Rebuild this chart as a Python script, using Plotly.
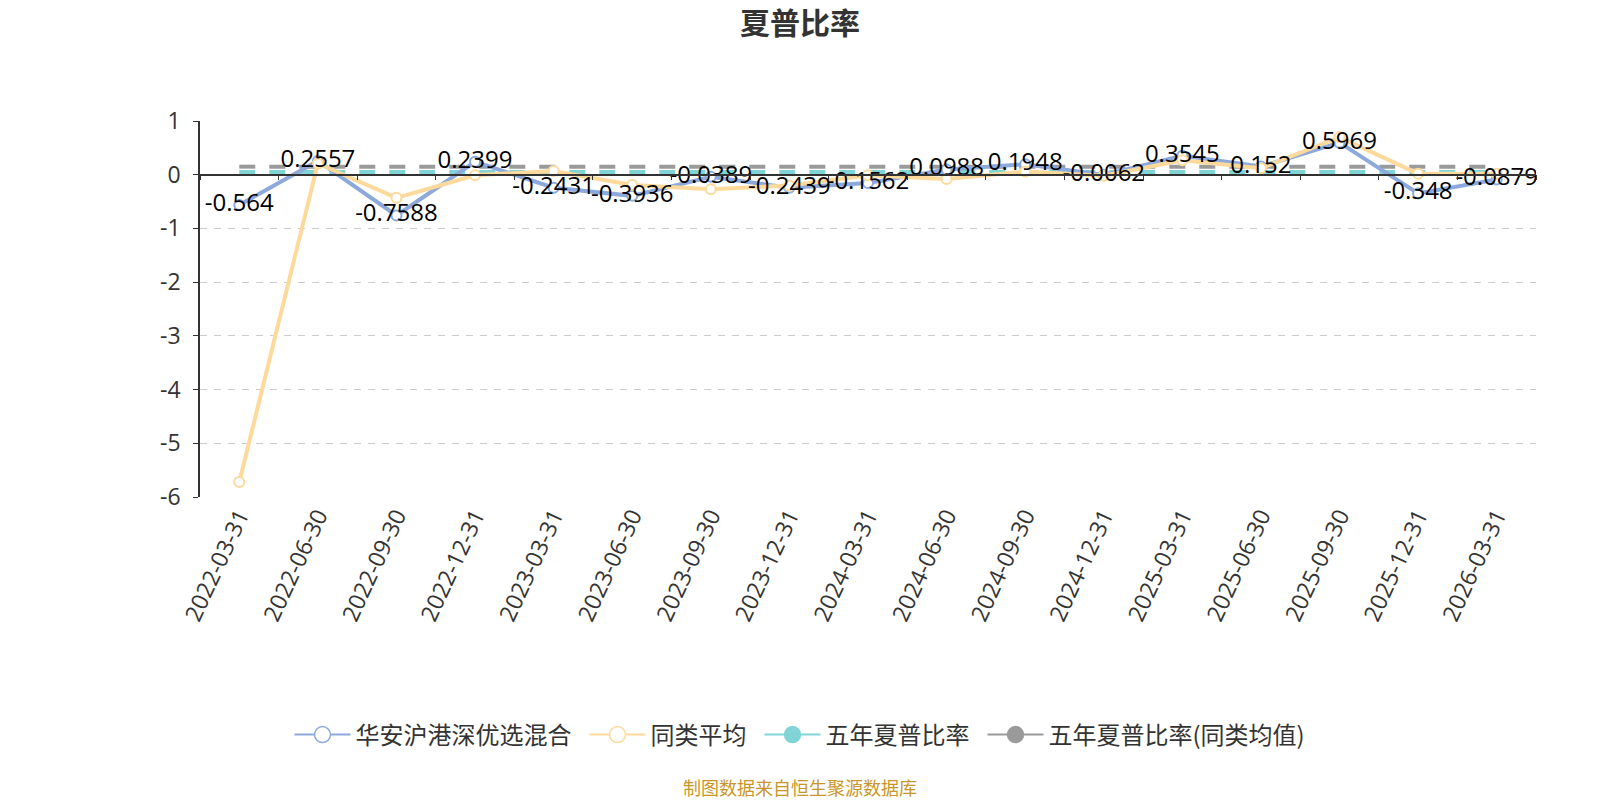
import plotly.graph_objects as go

dates = ["2022-03-31", "2022-06-30", "2022-09-30", "2022-12-31", "2023-03-31", "2023-06-30",
         "2023-09-30", "2023-12-31", "2024-03-31", "2024-06-30", "2024-09-30", "2024-12-31",
         "2025-03-31", "2025-06-30", "2025-09-30", "2025-12-31", "2026-03-31"]
fund = [-0.564, 0.2557, -0.7588, 0.2399, -0.2431, -0.3936, -0.0389, -0.2439, -0.1562,
        0.0988, 0.1948, -0.0062, 0.3545, 0.152, 0.5969, -0.348, -0.0879]
peer_avg = [-5.72, 0.21, -0.43, -0.01, 0.07, -0.19, -0.27, -0.2, -0.01,
            -0.08, 0.06, -0.02, 0.27, 0.12, 0.70, 0.02, 0.02]
five_year = 0.05
five_year_peer = 0.15
y_ticks = [1, 0, -1, -2, -3, -4, -5, -6]

names = ["华安沪港深优选混合", "同类平均", "五年夏普比率", "五年夏普比率(同类均值)"]
colors = ["#8DA9DC", "#FDD99B", "#80D4D6", "#9A9A9A"]

FONT = "Open Sans, Noto Sans CJK SC"
CJK = "Noto Sans CJK SC"
fig = go.Figure()

# constant five-year lines
fig.add_trace(go.Scatter(x=dates, y=[five_year] * len(dates), mode="lines",
                         line=dict(color=colors[2], width=4, dash="16px,14px"),
                         showlegend=False, hoverinfo="skip"))
fig.add_trace(go.Scatter(x=dates, y=[five_year_peer] * len(dates), mode="lines",
                         line=dict(color=colors[3], width=4, dash="16px,14px"),
                         showlegend=False, hoverinfo="skip"))
# fund
fig.add_trace(go.Scatter(x=dates, y=fund, mode="lines+markers",
                         line=dict(color=colors[0], width=4),
                         marker=dict(size=10, color="white", line=dict(color=colors[0], width=2)),
                         showlegend=False))
# peer average
fig.add_trace(go.Scatter(x=dates, y=peer_avg, mode="lines+markers",
                         line=dict(color=colors[1], width=4),
                         marker=dict(size=10, color="white", line=dict(color=colors[1], width=2)),
                         showlegend=False))
# labels for fund
fig.add_trace(go.Scatter(x=dates, y=fund, mode="text",
                         text=[("%g" % v) for v in fund], textposition="middle center",
                         textfont=dict(family=FONT, size=24, color="#000000"),
                         showlegend=False, hoverinfo="skip"))

# legend entries
for i, nm in enumerate(names):
    filled = i >= 2
    label = nm + ("\u2004" if i < len(names) - 1 else "")
    fig.add_trace(go.Scatter(x=[None], y=[None], mode="lines+markers", name=label,
                             line=dict(color=colors[i], width=2),
                             marker=dict(size=16, color=colors[i] if filled else "white",
                                         line=dict(color=colors[i], width=1.5))))

fig.update_layout(
    width=1600, height=800,
    paper_bgcolor="white", plot_bgcolor="white",
    margin=dict(l=200, r=64, t=121, b=303, autoexpand=False),
    font=dict(family=FONT, color="#333333"),
    title=dict(text="<b>夏普比率</b>", x=0.5, xanchor="center", y=1 - 23 / 800, yanchor="middle",
               font=dict(size=30, color="#333333", family=CJK)),
    showlegend=True,
    legend=dict(orientation="h", x=0.5, xanchor="center", xref="container",
                y=65 / 800, yref="container",
                yanchor="middle", font=dict(size=24, color="#333333", family=CJK),
                itemsizing="trace", itemwidth=56),
    xaxis=dict(type="category", categoryorder="array", categoryarray=dates,
               range=[-0.5, len(dates) - 0.5], showgrid=False, zeroline=False,
               showline=False, ticks="", tickangle=-65,
               tickfont=dict(size=23, color="#333333", family=FONT)),
    xaxis2=dict(type="category", categoryorder="array", categoryarray=dates,
                range=[-0.5, len(dates) - 0.5], overlaying="x", anchor="free",
                position=6 / 7, showgrid=False, zeroline=False, showline=True,
                linecolor="#333333", linewidth=1.5, ticks="outside", ticklen=5,
                tickcolor="#333333", tickson="boundaries", showticklabels=False),
    yaxis=dict(range=[-6, 1], tickvals=y_ticks, ticktext=[str(v) for v in y_ticks],
               showgrid=True, gridcolor="#CCCCCC",
               griddash="7px,7px", gridwidth=1.2, zeroline=False, showline=True,
               linecolor="#333333", linewidth=1.5, ticks="outside", ticklen=5,
               ticklabelstandoff=8,
               tickcolor="#333333", tickfont=dict(size=23, color="#333333", family=FONT)),
)
# invisible trace to activate xaxis2
fig.add_trace(go.Scatter(x=dates, y=[None] * len(dates), xaxis="x2", showlegend=False,
                         hoverinfo="skip"))

fig.add_annotation(text="制图数据来自恒生聚源数据库", xref="paper", yref="paper",
                   x=(800 - 200) / 1336, y=-(787 - 497) / 376, xanchor="center", yanchor="middle",
                   showarrow=False, font=dict(size=18, color="#C8962A", family=CJK))

fig.write_html("out.html", config={"displayModeBar": False},
               post_script="document.body.style.margin='0';document.body.style.overflow='hidden';")
